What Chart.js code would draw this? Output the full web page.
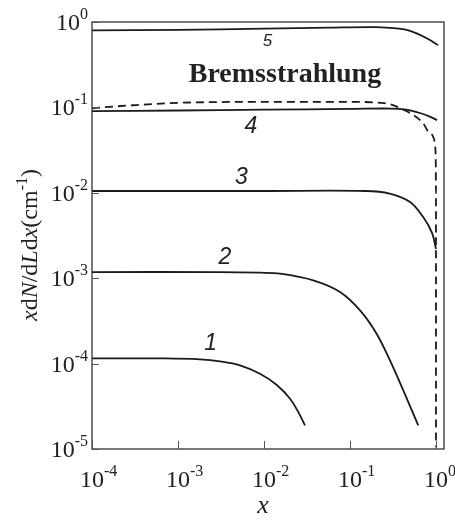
<!DOCTYPE html>
<html>
<head>
<meta charset="utf-8">
<script src="https://cdn.jsdelivr.net/npm/chart.js@4.4.1/dist/chart.umd.min.js"></script>
<style>
  html, body { margin: 0; padding: 0; background: #fff; }
  canvas { display: block; }
</style>
</head>
<body>
<canvas id="chart" width="455" height="522"></canvas>
<script>
// decade ticks and their exponents
const xTicks = [1e-4, 1e-3, 1e-2, 1e-1, 1];
const xTickExp = ['-4', '-3', '-2', '-1', '0'];
const yTicks = [1e-5, 1e-4, 1e-3, 1e-2, 1e-1, 1];
const yTickExp = ['-5', '-4', '-3', '-2', '-1', '0'];

// curves, [x, xdN/dLdx]
const curve1 = [[1e-4, 1.15e-4], [7e-4, 1.15e-4], [1.8e-3, 1.12e-4], [3.08e-3, 1.06e-4], [5.26e-3, 9.53e-5],
                [8.98e-3, 7.6e-5], [0.0141, 5.62e-5], [0.0201, 3.88e-5], [0.0251, 2.70e-5], [0.030, 1.89e-5]];
const curve2 = [[1e-4, 1.18e-3], [3e-3, 1.18e-3], [0.009, 1.16e-3], [0.0154, 1.13e-3], [0.0374, 9.45e-4],
                [0.0766, 6.9e-4], [0.131, 4.2e-4], [0.204, 2.24e-4], [0.292, 1.09e-4], [0.417, 4.85e-5], [0.622, 1.89e-5]];
const curve3 = [[1e-4, 0.0105], [0.01, 0.0105], [0.15, 0.0105], [0.29, 0.0098], [0.5, 0.0078],
                [0.71, 0.0052], [0.9, 0.0034], [1.0, 0.0022]];
const curve4 = [[1e-4, 0.0906], [1e-3, 0.092], [1e-2, 0.094], [0.1, 0.096], [0.3, 0.097], [0.45, 0.094],
                [0.65, 0.086], [0.85, 0.078], [1.03, 0.071]];
const curve5 = [[1e-4, 0.80], [1e-3, 0.81], [1e-2, 0.835], [0.06, 0.86], [0.2, 0.87], [0.35, 0.84],
                [0.5, 0.785], [0.78, 0.645], [1.06, 0.537]];
const brems = [[1e-4, 0.098], [3e-4, 0.106], [1e-3, 0.113], [1e-2, 0.116], [0.1, 0.116], [0.25, 0.112],
               [0.41, 0.095], [0.71, 0.065], [0.81, 0.052], [0.93, 0.045], [0.975, 0.036], [0.995, 0.022],
               [1.0, 0.01], [1.0, 1.05e-5]];

// curve numbers, placed in data coordinates
const labelText = ['1', '2', '3', '4', '5'];
const labelX = [0.00239, 0.00352, 0.00547, 0.00706, 0.011];
const labelY = [1.70e-4, 1.758e-3, 0.01524, 0.0599, 0.594];
const bremsLabel = ['Bremsstrahlung', 0.01754, 0.239];

const toXY = arr => arr.map(p => ({ x: p[0], y: p[1] }));

function line(data, dashed) {
  return {
    data: toXY(data),
    showLine: true,
    borderColor: '#1a1a1a',
    borderWidth: 1.8,
    borderDash: dashed ? [8, 5] : [],
    pointRadius: 0,
    tension: 0.35,
    cubicInterpolationMode: dashed ? 'monotone' : 'default',
    fill: false
  };
}

// draw "10" with a raised exponent
function drawPow(ctx, exp, x, y, mode) {
  ctx.textBaseline = 'alphabetic';
  ctx.font = '24px "Liberation Serif", serif';
  const wb = ctx.measureText('10').width;
  ctx.font = '16px "Liberation Serif", serif';
  const we = ctx.measureText(exp).width;
  let bx;
  if (mode === 'x') bx = x - wb / 2;
  else bx = x - wb - we - 1;
  ctx.font = '24px "Liberation Serif", serif';
  ctx.textAlign = 'left';
  ctx.fillText('10', bx, y);
  ctx.font = '16px "Liberation Serif", serif';
  ctx.fillText(exp, bx + wb, y - 11);
}

const decor = {
  id: 'decor',
  afterDraw(chart) {
    const ctx = chart.ctx, a = chart.chartArea;
    const xs = chart.scales.x, ys = chart.scales.y;
    ctx.save();
    // frame
    ctx.strokeStyle = '#333';
    ctx.lineWidth = 1.3;
    ctx.strokeRect(a.left, a.top, a.right - a.left, a.bottom - a.top);
    // inward ticks
    ctx.strokeStyle = '#555';
    ctx.lineWidth = 1;
    xTicks.forEach(v => {
      const px = Math.round(xs.getPixelForValue(v)) + 0.5;
      ctx.beginPath(); ctx.moveTo(px, a.bottom); ctx.lineTo(px, a.bottom - 8); ctx.stroke();
    });
    yTicks.forEach(v => {
      const py = Math.round(ys.getPixelForValue(v)) + 0.5;
      ctx.beginPath(); ctx.moveTo(a.left, py); ctx.lineTo(a.left + 7, py); ctx.stroke();
    });
    // tick labels
    ctx.fillStyle = '#222';
    xTicks.forEach((v, i) => drawPow(ctx, xTickExp[i], xs.getPixelForValue(v), a.bottom + 38, 'x'));
    yTicks.forEach((v, i) => drawPow(ctx, yTickExp[i], a.left - 3, ys.getPixelForValue(v) + 8, 'y'));

    // x axis title
    ctx.font = 'italic 26px "Liberation Serif", serif';
    ctx.textAlign = 'center';
    ctx.fillText('x', (a.left + a.right) / 2 - 5, a.bottom + 64);

    // y axis title, mixed italic / upright
    const parts = [['x', 'italic 24px'], ['d', '24px'], ['N', 'italic 24px'], ['/d', '24px'], ['L', 'italic 24px'],
                   ['d', '24px'], ['x', 'italic 24px'], ['(cm', '24px'], ['-1', '16px', true], [')', '24px']];
    let total = 0;
    parts.forEach(p => { ctx.font = p[1] + ' "Liberation Serif", serif'; total += ctx.measureText(p[0]).width; });
    ctx.save();
    ctx.translate(37, 245);
    ctx.rotate(-Math.PI / 2);
    ctx.textAlign = 'left';
    let cx = -total / 2;
    parts.forEach(p => {
      ctx.font = p[1] + ' "Liberation Serif", serif';
      ctx.fillText(p[0], cx, p[2] ? -10 : 0);
      cx += ctx.measureText(p[0]).width;
    });
    ctx.restore();

    // curve numbers
    ctx.textAlign = 'center';
    ctx.textBaseline = 'middle';
    labelText.forEach((t, i) => {
      ctx.font = (t === '5' ? 'italic 17px' : 'italic 23px') + ' "Liberation Sans", sans-serif';
      ctx.fillText(t, xs.getPixelForValue(labelX[i]), ys.getPixelForValue(labelY[i]));
    });
    ctx.font = 'bold 28px "Liberation Serif", serif';
    ctx.fillText(bremsLabel[0], xs.getPixelForValue(bremsLabel[1]), ys.getPixelForValue(bremsLabel[2]));
    ctx.restore();
  }
};

new Chart(document.getElementById('chart').getContext('2d'), {
  type: 'scatter',
  data: {
    datasets: [line(curve1), line(curve2), line(curve3), line(curve4), line(curve5), line(brems, true)]
  },
  options: {
    responsive: false,
    animation: false,
    devicePixelRatio: 1,
    layout: { padding: { left: 92, top: 22, right: 11, bottom: 73 } },
    plugins: { legend: { display: false }, tooltip: { enabled: false } },
    scales: {
      x: { type: 'logarithmic', min: 1e-4, max: 1.24, display: false },
      y: { type: 'logarithmic', min: 1e-5, max: 1, display: false }
    }
  },
  plugins: [decor]
});
</script>
</body>
</html>
